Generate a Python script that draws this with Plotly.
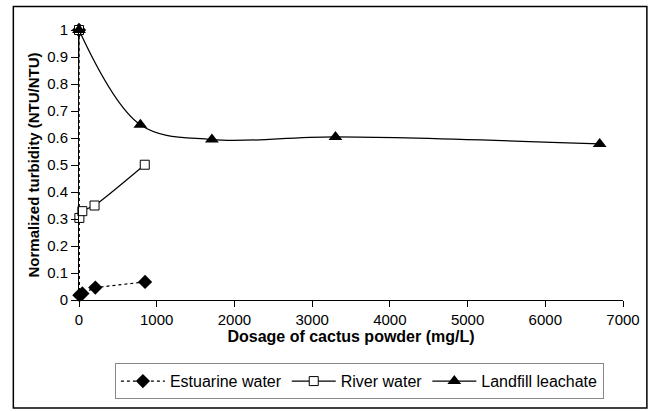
import plotly.graph_objects as go

# Data
est_x = [0, 5, 43, 210, 850]
est_y = [1.0, 0.018, 0.024, 0.046, 0.067]

riv_x = [0, 5, 43, 200, 846]
riv_y = [1.0, 0.304, 0.329, 0.350, 0.501]

lan_x = [0, 790, 1710, 3300, 6700]
lan_y = [1.0, 0.649, 0.594, 0.604, 0.578]

x_ticks = [0, 1000, 2000, 3000, 4000, 5000, 6000, 7000]
y_ticks = [0, 0.1, 0.2, 0.3, 0.4, 0.5, 0.6, 0.7, 0.8, 0.9, 1]
y_ticktext = ["0", "0.1", "0.2", "0.3", "0.4", "0.5", "0.6", "0.7", "0.8", "0.9", "1"]

FONT = "Liberation Sans, Arial, sans-serif"

fig = go.Figure()
fig.add_trace(go.Scatter(
    x=est_x, y=est_y, name="Estuarine water", mode="lines+markers",
    line=dict(color="black", width=1.2, dash="dot"),
    marker=dict(symbol="diamond", size=11, color="black"),
    cliponaxis=False))
fig.add_trace(go.Scatter(
    x=riv_x, y=riv_y, name="River water", mode="lines+markers",
    line=dict(color="black", width=1.2, shape="spline", smoothing=0.6),
    marker=dict(symbol="square", size=9, color="white", line=dict(color="black", width=1)),
    cliponaxis=False))
fig.add_trace(go.Scatter(
    x=lan_x, y=lan_y, name="Landfill leachate", mode="lines+markers",
    line=dict(color="black", width=1.2, shape="spline", smoothing=1.0),
    marker=dict(symbol="triangle-up", size=12, color="black"),
    cliponaxis=False))

fig.update_layout(
    width=652, height=411,
    margin=dict(l=79, r=26, t=30, b=104),
    paper_bgcolor="white", plot_bgcolor="white",
    font=dict(family=FONT, size=15, color="black"),
    showlegend=True,
    legend=dict(orientation="h", x=0.066, y=-0.234, xanchor="left", yanchor="top",
                bordercolor="#888888", borderwidth=1, bgcolor="white",
                font=dict(size=16), itemwidth=44, tracegroupgap=0),
    xaxis=dict(range=[0, 7000], tickvals=x_ticks, ticks="outside", ticklen=6,
               tickcolor="black", showline=True, linecolor="black", linewidth=1,
               showgrid=False, zeroline=False, tickfont=dict(size=15),
               title=dict(text="<b>Dosage of cactus powder (mg/L)</b>", standoff=3,
                          font=dict(size=16))),
    yaxis=dict(range=[0, 1], tickvals=y_ticks, ticktext=y_ticktext, ticks="outside",
               ticklen=7, tickcolor="black", showline=True, linecolor="black",
               linewidth=1, showgrid=False, zeroline=False, tickfont=dict(size=15),
               title=dict(text="<b>Normalized turbidity (NTU/NTU)</b>", standoff=3,
                          font=dict(size=15))),
    shapes=[dict(type="rect", xref="paper", yref="paper",
                 x0=-0.1207, x1=1.0439, y0=-0.40, y1=1.087,
                 line=dict(color="black", width=1.5), fillcolor="rgba(0,0,0,0)")],
)

fig.write_html("out.html")
